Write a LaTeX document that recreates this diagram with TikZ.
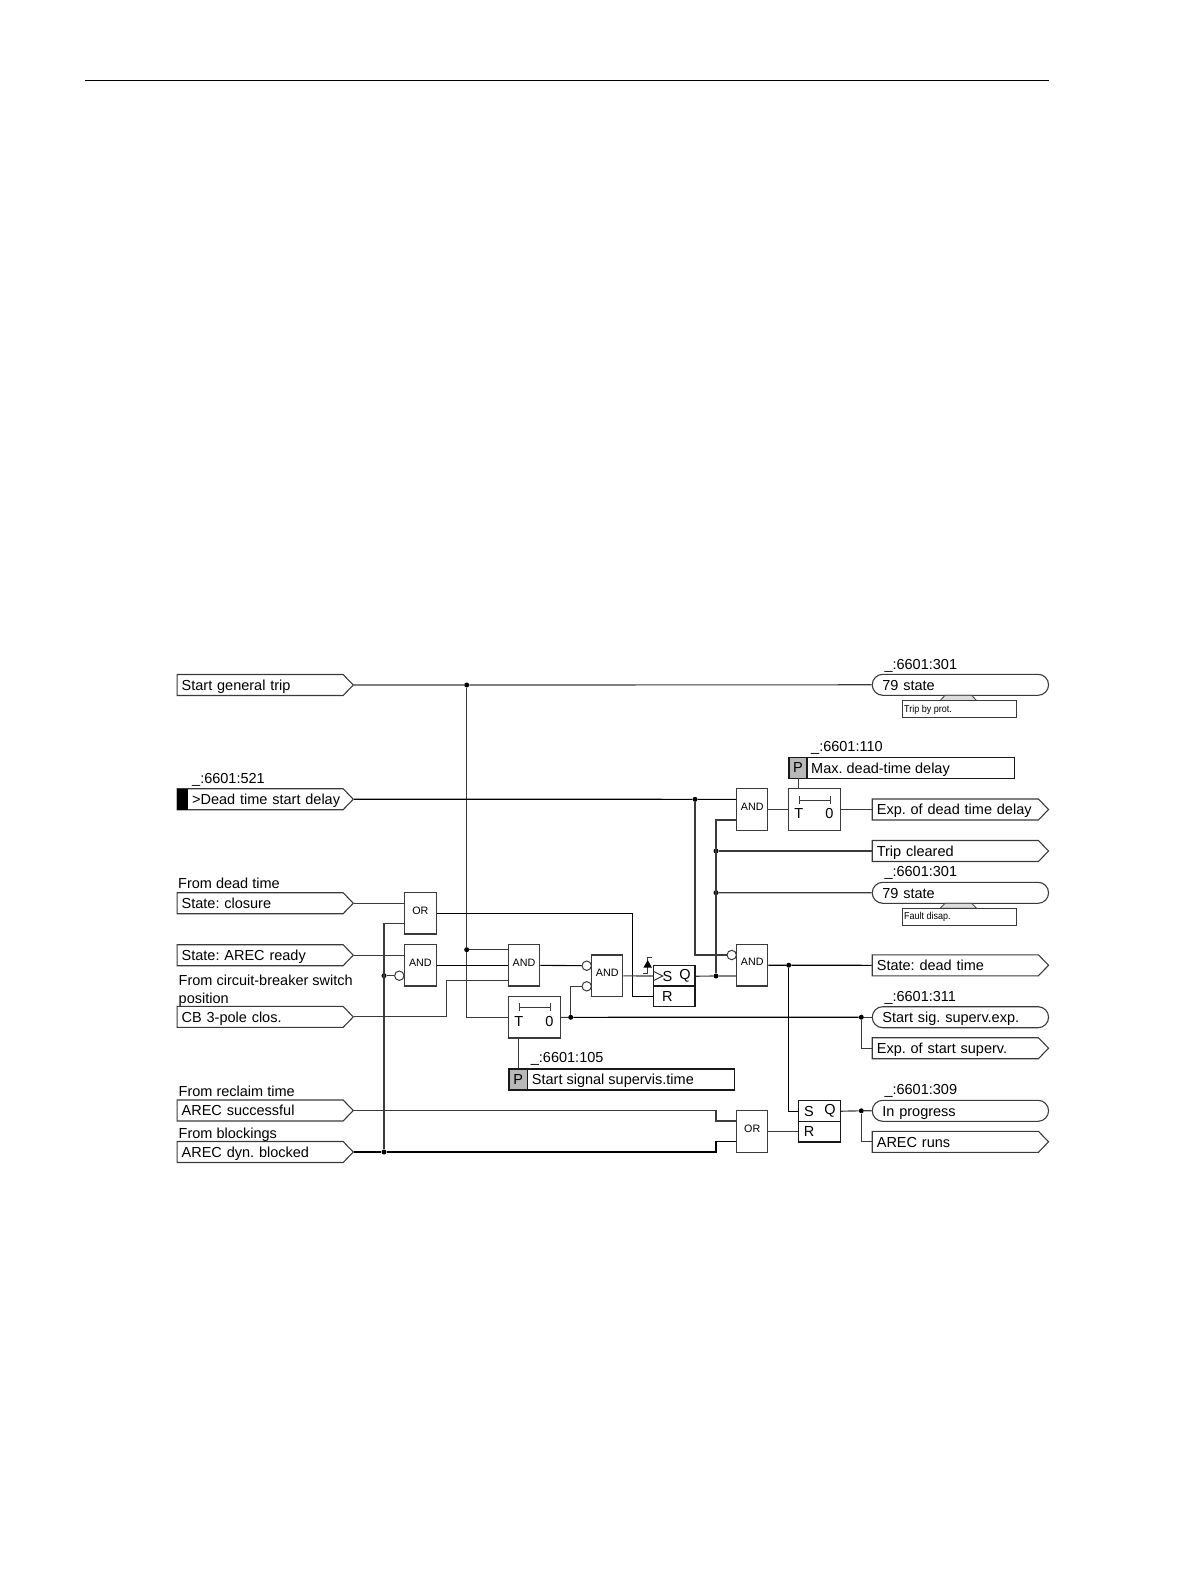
\documentclass[tikz,border=0pt]{standalone}
\usepackage{fontspec}
\setmainfont{Liberation Sans}
\usetikzlibrary{shapes.symbols,shapes.misc,calc}
\definecolor{ln}{HTML}{3A3A3A}
\definecolor{pgray}{HTML}{B8B8B8}
\definecolor{tabgray}{HTML}{DDDDDD}
\newcommand{\fs}[1]{\frenchspacing\fontsize{#1}{#1}\selectfont}
\tikzset{
  x=1pt,y=-1pt,
  wire/.style={draw=ln,line width=1.15pt},
  wireb/.style={draw=black,line width=1.1pt},
  sigbox/.style={signal,signal to=east,signal from=nowhere,draw=ln,line width=1.1pt,signal pointer angle=92,
     minimum height=21pt,inner ysep=0pt,inner xsep=0pt,anchor=west,align=left,font=\fs{14.5},text height=12pt,text depth=1.5pt},
  pillbox/.style={rounded rectangle,draw=ln,line width=1.1pt,minimum height=21pt,minimum width=176.3pt,inner ysep=0pt,inner xsep=0pt,
     text width=156pt,anchor=west,align=left,font=\fs{14.5},text height=12pt,text depth=1.5pt},
  gate/.style={rectangle,draw=ln,line width=1.1pt,fill=white,inner sep=0pt,font=\fs{10.7}},
  gatetxt/.style={inner sep=0pt,font=\fs{10.7}},
  lbl/.style={inner sep=0pt,anchor=base west,font=\fs{14.5}},
  dot/.style={circle,fill=black,inner sep=0pt,minimum size=5pt},
  bub/.style={circle,draw=ln,line width=1pt,fill=white,inner sep=0pt,minimum size=9.4pt},
  parbox/.style={rectangle,draw=black!90,line width=1.5pt,inner sep=0pt,minimum height=20.6pt},
  pcell/.style={rectangle,draw=black!90,line width=1.5pt,fill=pgray,inner sep=0pt,minimum height=20.6pt,font=\fs{14.5}},
  notebox/.style={rectangle,draw=ln,line width=1pt,fill=white,inner sep=0pt,minimum width=114.4pt,minimum height=17pt},
  notetxt/.style={inner sep=0pt,anchor=base west,font=\fs{10}},
  tabshape/.style={draw=ln,line width=.8pt,fill=tabgray},
  sr/.style={rectangle,draw=black!90,line width=1.4pt,inner sep=0pt},
}
\newcommand{\insig}[4]{\node[sigbox,minimum width=176.2pt,text width=160.8pt] (#1) at (176.5,#2) {\hspace*{#3pt}#4};}
\newcommand{\outsig}[3]{\node[sigbox,minimum width=176.3pt,text width=161pt] (#1) at (871.7,#2) {\hspace*{2pt}#3};}
\newcommand{\gatenode}[6]{\node[gate,minimum width=#4pt-#2pt,minimum height=#5pt-#3pt] (#1) at ({(#2+#4)/2},{(#3+#5)/2}) {}; \node[gatetxt] (#1t) at ({(#2+#4)/2},{(#3+#5)/2-3}) {#6};}
\begin{document}
\begin{tikzpicture}
\useasboundingbox (0,0) rectangle (1191,1587);
\coordinate (ruleL) at (85,80.3);
\coordinate (ruleR) at (1049,80.3);
\draw[black,line width=1.3pt] (ruleL) -- (ruleR);

% input signals
\insig{sTrip}{685}{2}{Start general trip}
\insig{sDead}{799.2}{12.5}{>Dead time start delay}
\node[rectangle,fill=black,inner sep=0pt,minimum width=10.8pt,minimum height=21pt,anchor=west] (sBlack) at (176.5,799.2) {};
\insig{sClos}{903.2}{2}{State: closure}
\insig{sReady}{955.2}{2}{State: AREC ready}
\insig{sCB}{1016.9}{2}{CB 3-pole clos.}
\insig{sSucc}{1110.5}{2}{AREC successful}
\insig{sBlock}{1152}{2}{AREC dyn. blocked}

\node[lbl] (t521) at (192,783.5) {\_:6601:521};
\node[lbl] (tFromDead) at (178,888) {From dead time};
\node[lbl] (tFromCB1) at (178.5,985) {From circuit-breaker switch};
\node[lbl] (tFromCB2) at (178.5,1003) {position};
\node[lbl] (tFromRec) at (178.5,1096) {From reclaim time};
\node[lbl] (tFromBlk) at (178.5,1138.3) {From blockings};

% output signals
\node[pillbox] (o79a) at (871.7,684.8) {79 state};
\outsig{oExpDead}{809.5}{Exp. of dead time delay}
\outsig{oTripCl}{851}{Trip cleared}
\node[pillbox] (o79b) at (871.7,892.8) {79 state};
\outsig{oStateDead}{965.3}{State: dead time}
\node[pillbox] (oStartSig) at (871.7,1017.2) {Start sig. superv.exp.};
\outsig{oExpStart}{1048.2}{Exp. of start superv.}
\node[pillbox] (oProg) at (871.7,1110.8) {In progress};
\outsig{oRuns}{1141.8}{AREC runs}

\node[lbl] (t301a) at (884.3,669) {\_:6601:301};
\node[lbl] (t301b) at (884.3,876.3) {\_:6601:301};
\node[lbl] (t311) at (884.3,1001) {\_:6601:311};
\node[lbl] (t309) at (884.3,1094.3) {\_:6601:309};
\node[lbl] (t110) at (811,751.7) {\_:6601:110};
\node[lbl] (t105) at (530.7,1062) {\_:6601:105};

% note tabs and boxes
\draw[tabshape] (940,700.7) -- (945,695.3) -- (971.7,695.3) -- (976.7,700.7) -- cycle;
\draw[tabshape] (940,908.3) -- (945,903.3) -- (971.7,903.3) -- (976.7,908.3) -- cycle;
\node[notebox] (nTrip) at (959.5,709.2) {};
\node[notebox] (nFault) at (959.5,916.8) {};
\node[notetxt,xscale=.9] (tTrip) at (904,712) {Trip by prot.};
\node[notetxt,xscale=.9] (tFault) at (904,919.5) {Fault disap.};

% gates
\gatenode{orA}{404.3}{892.7}{436.3}{934}{OR}
\gatenode{andA}{404.3}{944.7}{436.3}{986}{AND}
\gatenode{andB}{508.3}{944.7}{539.7}{986}{AND}
\gatenode{andC}{591.7}{955}{622.7}{996.7}{AND}
\gatenode{andD}{736.7}{944.3}{767.7}{986}{AND}
\gatenode{andE}{736.7}{788.7}{767.7}{830.3}{AND}
\gatenode{orB}{736.7}{1110.7}{767.7}{1152.3}{OR}
\gatenode{tA}{508.3}{996.7}{560.3}{1038}{}
\gatenode{tB}{788.3}{788.7}{840.3}{830.3}{}

% timers inner
\coordinate (tAbl) at (518.7,1007.3); \coordinate (tAbr) at (551,1007.3);
\draw[ln,line width=1pt,|-|] (tAbl) -- (tAbr);
\coordinate (tBbl) at (798.7,800); \coordinate (tBbr) at (831,800);
\draw[ln,line width=1pt,|-|] (tBbl) -- (tBbr);
\node[font=\fs{14.5},inner sep=0pt] (tAT) at (518.7,1021.7) {T};
\node[font=\fs{14.5},inner sep=0pt] (tA0) at (549.3,1021.7) {0};
\node[font=\fs{14.5},inner sep=0pt] (tBT) at (798.7,813.7) {T};
\node[font=\fs{14.5},inner sep=0pt] (tB0) at (829.3,813.7) {0};

% parameters
\node[parbox,minimum width=207.7pt,anchor=west] (pBig) at (806,768) {};
\node[pcell,minimum width=17.7pt,anchor=west] (pB) at (788.3,768) {P};
\node[lbl] (tMax) at (811,773) {Max. dead-time delay};
\node[parbox,minimum width=207pt,anchor=west] (pBigA) at (526.7,1079.5) {};
\node[pcell,minimum width=18.4pt,anchor=west] (pA) at (508.3,1079.5) {P};
\node[lbl] (tSup) at (531.7,1084.5) {Start signal supervis.time};
\draw[wire] (798.7,778.3) coordinate (pBpin) -- (pBpin |- tB.north);
\draw[wire] (518.7,1038) coordinate (tApin) -- (tApin |- pA.north);

% flip-flops
\node[sr,minimum width=41.3pt,minimum height=41.4pt] (srA) at (674.35,986) {};
\draw[black!90,line width=1.4pt] (srA.west) -- (srA.east);
\node[font=\fs{14.5},inner sep=0pt] (srAS) at (667.5,976.2) {S};
\node[font=\fs{14.5},inner sep=0pt] (srAQ) at (685,976.2) {Q};
\node[font=\fs{14.5},inner sep=0pt] (srAR) at (667.3,996.3) {R};
\coordinate (ck) at (653.7,976);
\draw[ln,line width=1pt] (ck) ++(0,-4.5) -- ++(9,4.5) -- ++(-9,4.5);
\node[sr,minimum width=41.6pt,minimum height=41.3pt] (srB) at (819.5,1121.35) {};
\draw[black!90,line width=1.4pt] (srB.west) -- (srB.east);
\node[font=\fs{14.5},inner sep=0pt] (srBS) at (809,1111.2) {S};
\node[font=\fs{14.5},inner sep=0pt] (srBQ) at (830,1111.2) {Q};
\node[font=\fs{14.5},inner sep=0pt] (srBR) at (809,1131) {R};

% edge symbol
\coordinate (eA) at (643,973.7); \coordinate (eB) at (647.7,973.7); \coordinate (eC) at (647.7,957); \coordinate (eD) at (652,957);
\draw[ln,line width=1pt] (eA) -- (eB) -- (eC) -- (eD);
\fill[black] (643.3,967.7) -- (652,967.7) -- (647.7,960) -- cycle;

% inversion bubbles
\node[bub] (bA) at (399.3,975.7) {};
\node[bub] (bB) at (586.7,965.7) {};
\node[bub] (bC) at (586.7,986.3) {};
\node[bub] (bD) at (731.7,955) {};

% junctions
\node[dot] (j1) at (466.7,685) {};
\node[dot] (j2) at (466.7,949.7) {};
\node[dot] (j3) at (384,975.7) {};
\node[dot] (j4) at (384,1152) {};
\node[dot] (j5) at (570.7,1017.3) {};
\node[dot] (j6) at (716,976) {};
\node[dot] (j7) at (695,799.3) {};
\node[dot] (j8) at (716,851) {};
\node[dot] (j9) at (716,892.7) {};
\node[dot] (j10) at (788.7,965.2) {};
\node[dot] (j11) at (861.3,1017.2) {};
\node[dot] (j12) at (861.3,1110.8) {};

% connectors
\draw[wire] (sTrip.east) -- (j1) -- (o79a.west);
\draw[wire] (j1) -- (j2) |- (tA.west);
\draw[wire] (j2) -- (j2 -| andB.west);
\draw[wireb] (sDead.east) -- (j7) -- (j7 -| andE.west);
\draw[wire] (j7) -- (j7 |- bD) -- (bD);
\draw[wire] (sClos.east) -- (sClos.east -| orA.west);
\coordinate (k1) at (632.7,913.3);
\draw[wireb] (orA.east |- k1) -- (k1) -- (k1 |- srAR) -- (srA.west |- srAR);
\draw[wire] (sReady.east) -- (sReady.east -| andA.west);
\draw[wire] (j3) -- (bA);
\draw[wire] (j4) -- (384,923.3) coordinate (k2) -- (k2 -| orA.west);
\draw[wireb] (andA.east) -- (andB.west);
\draw[wire] (sCB.east) -- (446.7,1016.9) coordinate (k3) -- (446.7,980.7) coordinate (k4) -- (k4 -| andB.west);
\draw[wireb] (andB.east) -- (bB);
\draw[wire] (j5) -- (j5 |- bC) -- (bC);
\draw[wire] (tA.east) -- (j5);
\draw[wireb] (j5) -- (j11);
\draw[wire] (j11) -- (oStartSig.west);
\draw[wire] (andC.east) -- (ck);
\draw[wire] (srA.east |- srAQ) -- (j6) -- (j6 -| andD.west);
\draw[wire] (j6) -- (716,820) coordinate (k5) -- (k5 -| andE.west);
\draw[wire] (j8) -- (oTripCl.west);
\draw[wire] (j9) -- (o79b.west);
\draw[wire] (andE.east) -- (tB.west);
\draw[wire] (tB.east) -- (oExpDead.west);
\draw[wireb] (andD.east |- j10) -- (j10) -- (oStateDead.west);
\draw[wireb] (j10) -- (j10 |- srBS) -- (srB.west |- srBS);
\draw[wire] (j11) |- (oExpStart.west);
\draw[wire] (sSucc.east) -- (716,1110.5) coordinate (k6) -- (716,1121) coordinate (k7) -- (k7 -| orB.west);
\draw[wireb] (sBlock.east) -- (j4) -- (716,1152) coordinate (k8) -- (716,1141.7) coordinate (k9) -- (k9 -| orB.west);
\draw[wire] (orB.east) -- (orB.east -| srB.west);
\draw[wire] (srB.east |- srBQ) -- (j12) -- (oProg.west);
\draw[wire] (j12) |- (oRuns.west);
\end{tikzpicture}
\end{document}
